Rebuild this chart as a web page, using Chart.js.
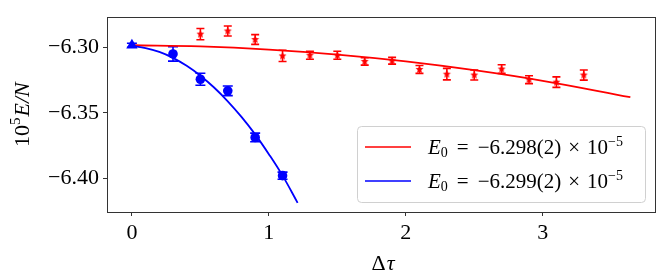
<!DOCTYPE html>
<html>
<head>
<meta charset="utf-8">
<script src="https://cdn.jsdelivr.net/npm/chart.js@4"></script>
<style>
  html, body { margin: 0; padding: 0; background: #fff; }
  #wrap { width: 665px; height: 279px; position: relative; }
</style>
</head>
<body>
<div id="wrap"><canvas id="chart"></canvas></div>
<script>
(function () {
    'use strict';

    // red points (step 1)
    const redX = [0.5, 0.7, 0.9, 1.1, 1.3, 1.5, 1.7, 1.9, 2.1, 2.3, 2.5, 2.7, 2.9, 3.1, 3.3];
    const redY = [-6.2900, -6.2876, -6.2941, -6.3066, -6.3061, -6.3061, -6.3108, -6.3103,
                  -6.3169, -6.3205, -6.3212, -6.3166, -6.3247, -6.3266, -6.3212];
    const redErr = [0.0043, 0.0038, 0.0037, 0.0043, 0.0030, 0.0030, 0.0028, 0.0026,
                    0.0030, 0.0044, 0.0038, 0.0033, 0.0030, 0.0040, 0.0039];

    // blue points
    const blueX = [0.3, 0.5, 0.7, 0.9, 1.1];
    const blueY = [-6.3051, -6.3244, -6.3332, -6.3688, -6.3979];
    const blueErr = [0.0055, 0.0046, 0.0037, 0.0033, 0.0027];

    // extrapolated point at zero
    const zeroX = [0];
    const zeroY = [-6.2985];
    const zeroErr = [0.0015];

    // fit curves
    const redFitX = [0, 0.5, 1.0, 1.5, 2.0, 2.5, 3.0, 3.64];
    const redFitY = [-6.2985, -6.2994, -6.3018, -6.3056, -6.3108, -6.3175, -6.3256, -6.3381];
    const blueFitX = [0, 0.1, 0.2, 0.3, 0.4, 0.5, 0.6, 0.7, 0.8, 0.9, 1.0, 1.1, 1.21];
    const blueFitY = [-6.2990, -6.3006, -6.3036, -6.3081, -6.3142, -6.3217, -6.3307, -6.3412,
                      -6.3531, -6.3664, -6.3815, -6.3979, -6.4186];

    const xTicks = [0, 1, 2, 3];
    const xTickLabels = ['0', '1', '2', '3'];
    const yTicks = [-6.30, -6.35, -6.40];
    const yTickLabels = ['\u22126.30', '\u22126.35', '\u22126.40'];

    const legendLabels = ['\u22126.298(2)', '\u22126.299(2)'];

    const SERIF = '"Liberation Serif", "DejaVu Serif", serif';

    function pts(xs, ys) {
        return xs.map(function (x, i) { return { x: x, y: ys[i] }; });
    }

    // small filled star marker
    function starMarker(color, r) {
        const c = document.createElement('canvas');
        const s = Math.ceil(r * 2 + 2);
        c.width = s; c.height = s;
        const g = c.getContext('2d');
        g.fillStyle = color;
        g.beginPath();
        for (let k = 0; k < 10; k++) {
            const rad = k % 2 === 0 ? r : r * 0.45;
            const ang = -Math.PI / 2 + k * Math.PI / 5;
            const px = s / 2 + rad * Math.cos(ang);
            const py = s / 2 + rad * Math.sin(ang);
            if (k === 0) g.moveTo(px, py); else g.lineTo(px, py);
        }
        g.closePath();
        g.fill();
        return c;
    }

    // error bars drawn under markers
    const errorBars = {
        id: 'errorBars',
        beforeDatasetsDraw: function (chart) {
            const ctx = chart.ctx;
            const y = chart.scales.y;
            chart.data.datasets.forEach(function (ds, i) {
                if (!ds.errors) return;
                const meta = chart.getDatasetMeta(i);
                const cap = ds.capHalf || 4.5;
                ctx.save();
                ctx.strokeStyle = ds.borderColor;
                ctx.lineWidth = 1.6;
                meta.data.forEach(function (p, j) {
                    const v = ds.data[j].y;
                    const top = y.getPixelForValue(v + ds.errors[j]);
                    const bot = y.getPixelForValue(v - ds.errors[j]);
                    ctx.beginPath();
                    ctx.moveTo(p.x, top); ctx.lineTo(p.x, bot);
                    ctx.moveTo(p.x - cap, top); ctx.lineTo(p.x + cap, top);
                    ctx.moveTo(p.x - cap, bot); ctx.lineTo(p.x + cap, bot);
                    ctx.stroke();
                });
                ctx.restore();
            });
        }
    };

    function drawRuns(ctx, x, y, runs) {
        runs.forEach(function (r) {
            ctx.font = r.font;
            ctx.fillText(r.t, x, y + (r.dy || 0));
            x += ctx.measureText(r.t).width + (r.gap || 0);
        });
        return x;
    }
    function runsWidth(ctx, runs) {
        let w = 0;
        runs.forEach(function (r) {
            ctx.font = r.font;
            w += ctx.measureText(r.t).width + (r.gap || 0);
        });
        return w;
    }

    // frame, axis titles and the legend
    const decorations = {
        id: 'decorations',
        afterDraw: function (chart) {
            const ctx = chart.ctx;
            const a = chart.chartArea;
            ctx.save();
            ctx.strokeStyle = '#333';
            ctx.lineWidth = 1;
            ctx.strokeRect(Math.round(a.left) + 0.5, Math.round(a.top) + 0.5,
                Math.round(a.right - a.left), Math.round(a.bottom - a.top));

            ctx.fillStyle = '#000';
            ctx.textBaseline = 'alphabetic';
            ctx.textAlign = 'left';

            // x title
            const xRuns = [
                { t: '\u0394', font: '22px ' + SERIF, gap: 1 },
                { t: '\u03c4', font: 'italic 22px ' + SERIF }
            ];
            const xw = runsWidth(ctx, xRuns);
            drawRuns(ctx, (a.left + a.right) / 2 - xw / 2 + 2, 270, xRuns);

            // y title
            const yRuns = [
                { t: '10', font: '22px ' + SERIF },
                { t: '5', font: '15px ' + SERIF, dy: -9, gap: 1 },
                { t: 'E/N', font: 'italic 22px ' + SERIF }
            ];
            const yw = runsWidth(ctx, yRuns);
            ctx.save();
            ctx.translate(29, (a.top + a.bottom) / 2 + yw / 2);
            ctx.rotate(-Math.PI / 2);
            drawRuns(ctx, 0, 0, yRuns);
            ctx.restore();

            // legend
            const lx = 357, ly = 126, lw = 288, lh = 76;
            ctx.beginPath();
            ctx.roundRect(lx + 0.5, ly + 0.5, lw, lh, 4);
            ctx.fillStyle = 'rgba(255,255,255,0.8)';
            ctx.fill();
            ctx.strokeStyle = '#d0d0d0';
            ctx.lineWidth = 1;
            ctx.stroke();

            const colors = ['#ff0000', '#0000ff'];
            const rows = [147, 181];
            rows.forEach(function (ry, k) {
                ctx.strokeStyle = colors[k];
                ctx.lineWidth = 1.5;
                ctx.beginPath();
                ctx.moveTo(365, ry); ctx.lineTo(411, ry);
                ctx.stroke();
                ctx.fillStyle = '#000';
                drawRuns(ctx, 428, ry + 6.5, [
                    { t: 'E', font: 'italic 21px ' + SERIF },
                    { t: '0', font: '14px ' + SERIF, dy: 3, gap: 9 },
                    { t: '=', font: '21px ' + SERIF, gap: 9 },
                    { t: legendLabels[k], font: '21px ' + SERIF, gap: 7 },
                    { t: '\u00d7', font: '21px ' + SERIF, gap: 7 },
                    { t: '10', font: '21px ' + SERIF },
                    { t: '\u22125', font: '14px ' + SERIF, dy: -8 }
                ]);
            });
            ctx.restore();
        }
    };

    const ctx = document.getElementById('chart').getContext('2d');

    new Chart(ctx, {
        type: 'scatter',
        data: {
            datasets: [
                {
                    label: 'red fit',
                    data: pts(redFitX, redFitY),
                    showLine: true,
                    borderColor: '#ff0000',
                    borderWidth: 1.8,
                    pointRadius: 0,
                    tension: 0.4,
                    order: 3
                },
                {
                    label: 'blue fit',
                    data: pts(blueFitX, blueFitY),
                    showLine: true,
                    borderColor: '#0000ff',
                    borderWidth: 1.8,
                    pointRadius: 0,
                    tension: 0.4,
                    order: 2
                },
                {
                    label: 'red',
                    data: pts(redX, redY),
                    errors: redErr,
                    capHalf: 4,
                    borderColor: '#ff0000',
                    backgroundColor: '#ff0000',
                    pointStyle: starMarker('#ff0000', 4.2),
                    pointRadius: 4,
                    borderWidth: 0,
                    order: 1
                },
                {
                    label: 'blue',
                    data: pts(blueX, blueY),
                    errors: blueErr,
                    capHalf: 5,
                    borderColor: '#0000ff',
                    backgroundColor: '#0000ff',
                    pointStyle: 'circle',
                    pointRadius: 4.8,
                    borderWidth: 0,
                    order: 1
                },
                {
                    label: 'zero',
                    data: pts(zeroX, zeroY),
                    errors: zeroErr,
                    capHalf: 5,
                    borderColor: '#0000ff',
                    backgroundColor: '#0000ff',
                    pointStyle: 'triangle',
                    pointRadius: 6.5,
                    borderWidth: 0,
                    order: 0
                }
            ]
        },
        options: {
            responsive: true,
            maintainAspectRatio: false,
            animation: false,
            devicePixelRatio: 1,
            layout: { padding: { left: 0, right: 10, top: 9, bottom: 0 } },
            plugins: {
                legend: { display: false },
                tooltip: { enabled: false }
            },
            scales: {
                x: {
                    type: 'linear',
                    min: -0.182,
                    max: 3.82,
                    afterFit: function (s) { s.height = 67; },
                    afterBuildTicks: function (s) {
                        s.ticks = xTicks.map(function (v) { return { value: v }; });
                    },
                    ticks: {
                        autoSkip: false,
                        maxRotation: 0,
                        padding: 4,
                        color: '#000',
                        font: { family: SERIF, size: 22 },
                        callback: function (v) { return xTickLabels[xTicks.indexOf(v)]; }
                    },
                    grid: {
                        drawOnChartArea: false,
                        drawTicks: true,
                        tickLength: 4,
                        color: '#333'
                    },
                    border: { color: '#333' }
                },
                y: {
                    type: 'linear',
                    min: -6.4256,
                    max: -6.2771,
                    afterFit: function (s) { s.width = 107; },
                    afterBuildTicks: function (s) {
                        s.ticks = yTicks.map(function (v) { return { value: v }; });
                    },
                    ticks: {
                        autoSkip: false,
                        padding: 4,
                        color: '#000',
                        font: { family: SERIF, size: 22 },
                        callback: function (v) {
                            const i = yTicks.findIndex(function (t) { return Math.abs(t - v) < 1e-9; });
                            return yTickLabels[i];
                        }
                    },
                    grid: {
                        drawOnChartArea: false,
                        drawTicks: true,
                        tickLength: 4,
                        color: '#333'
                    },
                    border: { color: '#333' }
                }
            }
        },
        plugins: [errorBars, decorations]
    });
})();
</script>
</body>
</html>
